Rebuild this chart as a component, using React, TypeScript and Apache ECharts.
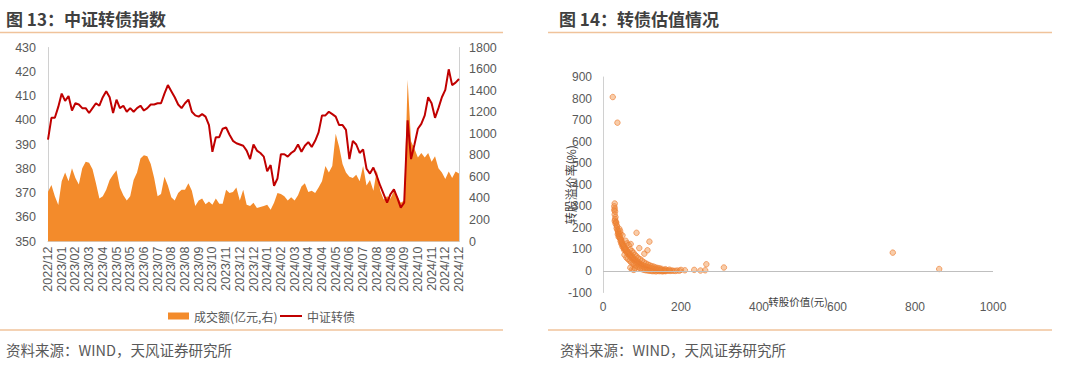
import React, { useEffect, useRef } from "react";
import * as echarts from "echarts";

// ---------- Data ----------
const tickLabels = [
  "2022/12", "2023/01", "2023/02", "2023/03", "2023/04", "2023/05", "2023/05", "2023/06",
  "2023/07", "2023/08", "2023/08", "2023/09", "2023/10", "2023/11", "2023/12", "2023/12",
  "2024/01", "2024/02", "2024/03", "2024/04", "2024/04", "2024/05", "2024/06", "2024/07",
  "2024/08", "2024/08", "2024/09", "2024/10", "2024/11", "2024/12", "2024/12",
];

// 中证转债 index (left axis), sampled evenly through the period
const indexValues = [
  392, 401, 401, 405.5, 411, 408, 410, 404, 407, 406.5,
  405, 405, 403, 405, 407, 406, 409.5, 412, 409.5, 403,
  408.5, 405, 406, 403.5, 405, 403.5, 405, 406, 404, 405,
  406.5, 406.5, 407, 407, 411, 414.5, 412, 409.5, 406.5, 405,
  407, 408.5, 403.5, 402, 401.5, 402.5, 401.5, 398, 387, 393,
  393, 396.5, 397, 394, 391.5, 390.5, 390, 389.5, 387.5, 384,
  390, 387.5, 386.5, 385, 379, 381.5, 373, 376, 386, 386,
  385, 386.5, 387.5, 390, 387, 389.5, 391, 389, 391.5, 395,
  402, 402, 403.5, 402.5, 401.5, 398, 398, 396, 384, 391.5,
  390, 386.5, 388, 380, 378, 380.5, 377, 373, 369.5, 366,
  369.5, 371.5, 368, 364, 366, 400, 384, 390, 396.5, 398.5,
  402, 409.5, 407, 401, 405, 409.5, 412.5, 421, 414.5, 415.5,
  417,
];

// 成交额 (亿元, right axis)
const volumeValues = [
  462, 524, 420, 339, 560, 640, 560, 680, 590, 530,
  680, 740, 730, 670, 540, 400, 420, 480, 570, 620,
  660, 500, 430, 380, 420, 570, 640, 770, 800, 790,
  720, 590, 420, 440, 600, 520, 410, 380, 450, 480,
  480, 540, 470, 330, 380, 400, 345, 370, 340, 400,
  350, 350, 480, 450, 460, 500, 380, 480, 340, 330,
  360, 310, 320, 330, 340, 295, 360, 450, 440, 420,
  380, 410, 380, 430, 510, 540, 460, 470, 450, 500,
  560, 700, 640, 700, 1000, 880, 720, 640, 600, 590,
  620, 560, 700, 520, 570, 470, 660, 470, 390, 420,
  400, 470, 420, 360, 380, 1500, 930, 860, 780, 820,
  780, 820, 740, 790, 680, 640, 580, 650, 590, 650,
  630,
];

const categories = indexValues.map((_, i) => String(i));

// 转股价值(元), 转股溢价率(%)
const scatterPoints = [
  [25, 807], [37, 688],
  [30, 313], [29, 300], [30, 290], [29, 282], [31, 276], [30, 262], [32, 250], [31, 240],
  [30, 232], [33, 228], [34, 224], [32, 220], [35, 212], [36, 206], [35, 198], [37, 192],
  [38, 186], [39, 180], [40, 175], [38, 170], [41, 168], [42, 162], [40, 158], [43, 156],
  [44, 150], [45, 172], [46, 146], [45, 138], [47, 142], [48, 134], [47, 126], [49, 130],
  [50, 124], [51, 118], [50, 112], [52, 120], [53, 110], [54, 115], [55, 104], [54, 98],
  [56, 108], [57, 100], [58, 94], [59, 102], [60, 88], [61, 95], [62, 84], [63, 90],
  [64, 80], [65, 86], [66, 76], [67, 82], [68, 72], [69, 78], [70, 68], [71, 74],
  [72, 64], [73, 70], [74, 60], [75, 66], [76, 56], [77, 62], [78, 52], [79, 58],
  [80, 50], [81, 55], [82, 46], [83, 51], [84, 43], [85, 48], [86, 40], [87, 45],
  [88, 37], [89, 42], [90, 34], [91, 39], [92, 31], [93, 36], [94, 29], [95, 33],
  [96, 27], [97, 31], [98, 25], [99, 29], [100, 23], [102, 26], [104, 20], [106, 23],
  [108, 18], [110, 21], [112, 15], [114, 18], [116, 13], [118, 16], [120, 11], [122, 14],
  [124, 9], [126, 12], [128, 8], [130, 10], [132, 6], [134, 9], [136, 5], [138, 7],
  [140, 4], [143, 6], [146, 3], [149, 5], [152, 2], [155, 4], [158, 1], [161, 3],
  [164, 1], [168, 2], [172, 0], [176, 2], [180, 1], [185, 0], [190, 2], [196, 1], [200, 5],
  [55, 75], [60, 62], [64, 55], [68, 48], [72, 40], [76, 35], [80, 30], [84, 26],
  [88, 20], [92, 15], [96, 12], [100, 8], [104, 6], [108, 4], [112, 3], [116, 2],
  [120, 1], [124, 0], [128, -1], [132, 0], [136, -2], [140, 1], [144, -1], [148, 0],
  [152, -2], [156, 0], [160, -1], [75, 8], [79, 5], [82, 12], [70, 15],
  [58, 140], [62, 128], [66, 120], [70, 100], [74, 92], [78, 85], [82, 75], [86, 68],
  [90, 60], [95, 55], [100, 48], [105, 40], [110, 35], [115, 30], [120, 26], [125, 22],
  [130, 20], [135, 16], [140, 14], [145, 12], [150, 10], [160, 8], [170, 6],
  [86, 177], [71, 125], [93, 106], [119, 136], [114, 96], [106, 80], [50, 165], [44, 185], [42, 195],
  [210, 3], [234, 5], [250, 2], [262, 3], [265, 31], [310, 16], [743, 85], [862, 9],
];

// ---------- Styles ----------
const FONT = '"Liberation Sans", Arial, "Noto Sans CJK SC", sans-serif';
const CJK = '"Noto Sans CJK SC", "Liberation Sans", sans-serif';
const LABEL = "#595959";
const AXIS = "#D0D0D0";
const ORANGE = "#F38B2B";
const RED = "#C00000";
const RULE = "#F0C39B";
const plain = (v: number) => String(v);

export default function App() {
  const ref = useRef<HTMLDivElement>(null);

  useEffect(() => {
    if (!ref.current) return;
    const chart = echarts.init(ref.current, null, { renderer: "svg" });

    const option: any = {
      animation: false,
      textStyle: { fontFamily: FONT },
      graphic: [
        { type: "text", x: 6, y: 18, style: { text: "图 13：中证转债指数", font: `bold 17px ${CJK}`, fill: "#404040", verticalAlign: "middle" } },
        { type: "text", x: 559, y: 18, style: { text: "图 14：转债估值情况", font: `bold 17px ${CJK}`, fill: "#404040", verticalAlign: "middle" } },
        { type: "line", shape: { x1: 0, y1: 32.5, x2: 503, y2: 32.5 }, style: { stroke: RULE, lineWidth: 1.5 } },
        { type: "line", shape: { x1: 548, y1: 32.5, x2: 1052, y2: 32.5 }, style: { stroke: RULE, lineWidth: 1.5 } },
        { type: "line", shape: { x1: 0, y1: 330, x2: 503, y2: 330 }, style: { stroke: RULE, lineWidth: 1.5 } },
        { type: "line", shape: { x1: 548, y1: 330, x2: 1052, y2: 330 }, style: { stroke: RULE, lineWidth: 1.5 } },
        { type: "text", x: 6, y: 349, style: { text: "资料来源：WIND，天风证券研究所", font: `14.5px ${CJK}`, fill: "#595959", verticalAlign: "middle" } },
        { type: "text", x: 560, y: 349, style: { text: "资料来源：WIND，天风证券研究所", font: `14.5px ${CJK}`, fill: "#595959", verticalAlign: "middle" } },
      ],
      legend: [
        {
          left: 163,
          top: 305,
          itemWidth: 21,
          itemHeight: 7,
          textStyle: { fontSize: 12, color: LABEL, fontFamily: CJK },
          data: [{ name: "成交额(亿元,右)", icon: "rect" }],
        },
        {
          left: 275,
          top: 305,
          itemWidth: 22,
          itemHeight: 2,
          textStyle: { fontSize: 12, color: LABEL, fontFamily: CJK },
          data: [{ name: "中证转债", icon: "rect" }],
        },
      ],
      grid: [
        { left: 48, right: 621, top: 47.5, bottom: 129.5 },
        { left: 603, right: 87, top: 77, bottom: 78.5 },
      ],
      xAxis: [
        {
          type: "category",
          gridIndex: 0,
          data: categories,
          boundaryGap: false,
          axisLine: { lineStyle: { color: AXIS } },
          axisTick: { show: false },
          axisLabel: {
            rotate: 90,
            interval: 3,
            margin: 5,
            fontSize: 12.5,
            color: LABEL,
            formatter: (_v: string, idx: number) => tickLabels[Math.round(idx / 4)] ?? "",
          },
        },
        {
          type: "value",
          gridIndex: 1,
          min: 0,
          max: 1000,
          interval: 200,
          axisLine: { show: false },
          axisTick: { show: false },
          splitLine: { show: false },
          axisLabel: { fontSize: 12, color: LABEL, margin: 8, formatter: plain },
          name: "转股价值(元)",
          nameLocation: "middle",
          nameGap: 4,
          nameMoveOverlap: false,
          nameTextStyle: { fontSize: 10.5, color: "#404040", fontFamily: CJK, verticalAlign: "top" },
        },
      ],
      yAxis: [
        {
          type: "value",
          gridIndex: 0,
          min: 350,
          max: 430,
          interval: 10,
          axisLine: { show: true, lineStyle: { color: AXIS } },
          axisTick: { show: false },
          splitLine: { show: false },
          axisLabel: { fontSize: 12.5, color: LABEL, margin: 12, formatter: plain },
        },
        {
          type: "value",
          gridIndex: 0,
          position: "right",
          min: 0,
          max: 1800,
          interval: 200,
          axisLine: { show: true, lineStyle: { color: AXIS } },
          axisTick: { show: false },
          splitLine: { show: false },
          axisLabel: { fontSize: 12.5, color: LABEL, margin: 10, formatter: plain },
        },
        {
          type: "value",
          gridIndex: 1,
          min: -100,
          max: 900,
          interval: 100,
          axisLine: { show: true, onZero: false, lineStyle: { color: AXIS } },
          axisTick: { show: false },
          splitLine: { show: false },
          axisLabel: { fontSize: 12, color: LABEL, margin: 11, formatter: plain },
          name: "转股溢价率(%)",
          nameLocation: "middle",
          nameRotate: 90,
          nameGap: 27,
          nameMoveOverlap: false,
          nameTextStyle: { fontSize: 12, color: "#404040", fontFamily: CJK },
        },
      ],
      series: [
        {
          name: "成交额(亿元,右)",
          type: "line",
          xAxisIndex: 0,
          yAxisIndex: 1,
          data: volumeValues,
          symbol: "none",
          lineStyle: { width: 0, color: ORANGE },
          itemStyle: { color: ORANGE },
          areaStyle: { color: ORANGE, opacity: 1 },
          z: 1,
        },
        {
          name: "中证转债",
          type: "line",
          xAxisIndex: 0,
          yAxisIndex: 0,
          data: indexValues,
          symbol: "none",
          lineStyle: { width: 2, color: RED },
          itemStyle: { color: RED },
          z: 2,
        },
        {
          name: "转债估值",
          type: "scatter",
          xAxisIndex: 1,
          yAxisIndex: 2,
          data: scatterPoints,
          symbolSize: 5.5,
          itemStyle: {
            color: "rgba(240,140,60,0.55)",
            borderColor: "rgba(236,125,49,0.8)",
            borderWidth: 1,
          },
          markLine: {
            silent: true,
            symbol: ["none", "none"],
            label: { show: false },
            lineStyle: { color: "#BFBFBF", type: "solid", width: 1 },
            data: [{ yAxis: 0 }],
          },
          z: 3,
        },
      ],
    };

    chart.setOption(option);
    return () => chart.dispose();
  }, []);

  return (
    <div
      ref={ref}
      style={{ position: "absolute", left: 0, top: 0, width: 1080, height: 371, background: "#fff" }}
    />
  );
}
